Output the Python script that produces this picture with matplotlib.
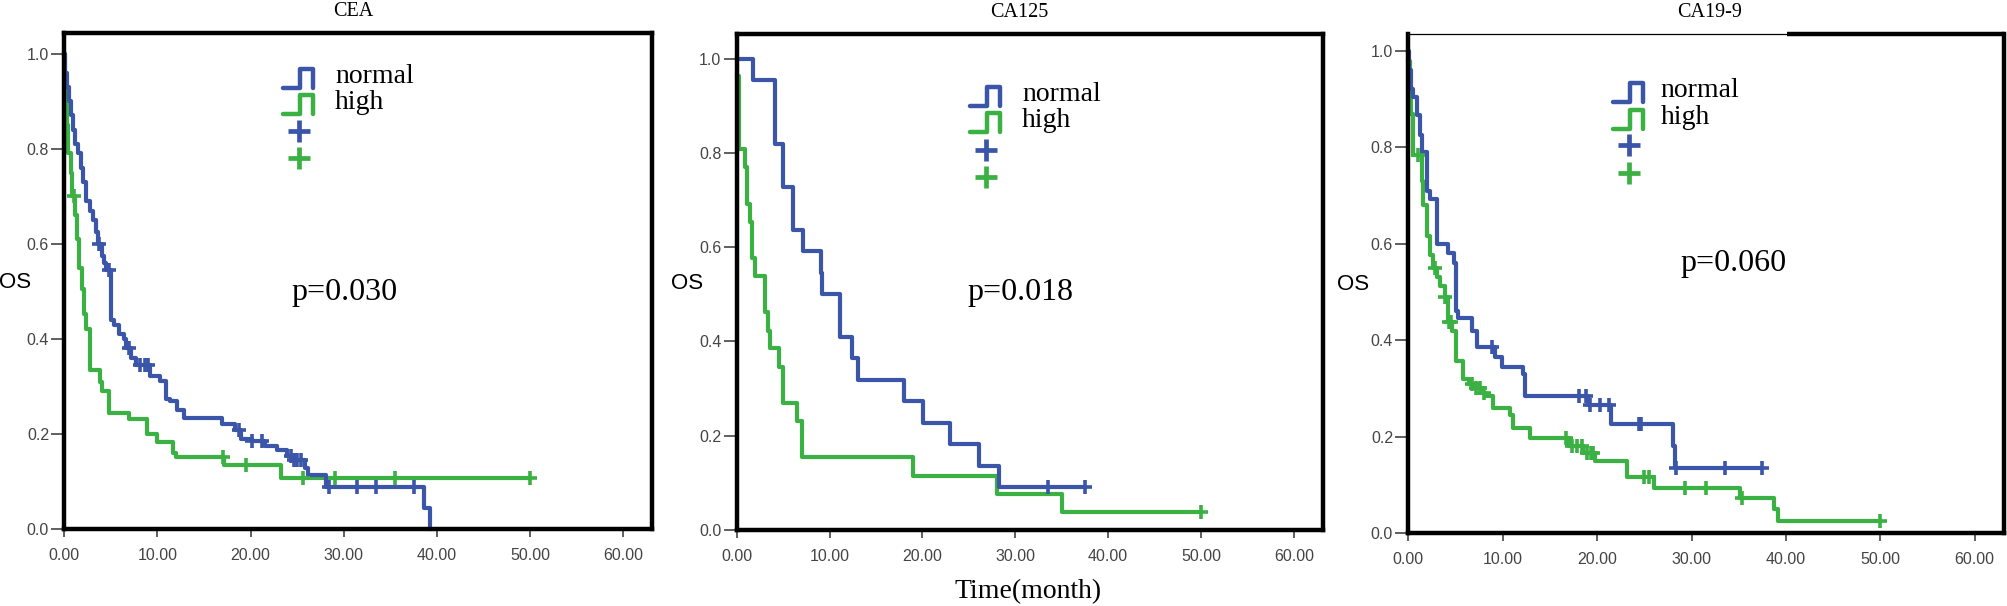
import numpy as np
import matplotlib
matplotlib.use('Agg')
import matplotlib.pyplot as plt

# ---- data (KM step points: time, survival after the step) ----
cea_normal_t = [0, 0.1, 0.3, 0.5, 0.7, 0.9, 1.2, 1.5, 1.8, 2.0, 2.3, 2.8, 3.1, 3.4, 3.6,
                4.0, 4.3, 4.5, 5.0, 5.3, 5.9, 6.4, 6.6, 7.2, 7.7, 9.2, 10.3, 10.9, 11.4,
                12.1, 12.9, 16.9, 18.3, 19.0, 20.1, 21.5, 22.8, 23.9, 24.6, 25.8, 26.2,
                28.1, 38.6, 39.3]
cea_normal_s = [1.0, 0.96, 0.93, 0.90, 0.87, 0.84, 0.81, 0.79, 0.76, 0.73, 0.69, 0.67, 0.65,
                0.625, 0.60, 0.575, 0.56, 0.544, 0.44, 0.43, 0.41, 0.40, 0.38, 0.36, 0.345,
                0.322, 0.311, 0.273, 0.269, 0.251, 0.234, 0.221, 0.208, 0.19, 0.185, 0.174,
                0.167, 0.153, 0.146, 0.128, 0.114, 0.088, 0.044, 0.0]
cea_normal_cens = [3.7, 4.75, 6.9, 8.1, 8.7, 9.0, 18.75, 20.2, 21.2, 24.3, 24.7, 25.0, 25.4,
                   28.4, 31.4, 33.5, 37.5]

cea_high_t = [0, 0.05, 0.15, 0.3, 0.45, 0.7, 0.85, 1.2, 1.4, 1.6, 1.9, 2.1, 2.35, 2.8, 3.8,
              4.1, 4.8, 6.9, 8.9, 9.9, 11.7, 12.0, 17.2, 23.3]
cea_high_s = [1.0, 0.95, 0.90, 0.85, 0.79, 0.75, 0.70, 0.66, 0.61, 0.55, 0.505, 0.452, 0.42,
              0.335, 0.31, 0.29, 0.245, 0.232, 0.199, 0.183, 0.16, 0.152, 0.134, 0.108]
cea_high_cens = [1.0, 17.0, 19.5, 25.6, 29.1, 35.5, 50.0]

ca125_normal_t = [0, 1.8, 4.1, 5.0, 6.1, 7.1, 9.1, 9.2, 11.1, 12.4, 13.1, 18.0, 20.1, 23.0,
                  26.1, 28.2]
ca125_normal_s = [1.0, 0.955, 0.818, 0.727, 0.636, 0.591, 0.545, 0.50, 0.409, 0.364, 0.318,
                  0.273, 0.227, 0.182, 0.136, 0.091]
ca125_normal_cens = [33.5, 37.5]

ca125_high_t = [0, 0.2, 0.9, 1.1, 1.4, 1.6, 2.0, 3.1, 3.4, 3.6, 4.6, 5.0, 6.45, 7.0, 19.0,
                28.0, 35.0]
ca125_high_s = [0.962, 0.808, 0.769, 0.692, 0.654, 0.577, 0.538, 0.462, 0.423, 0.385, 0.346,
                0.269, 0.231, 0.154, 0.115, 0.077, 0.038]
ca125_high_cens = [50.0]

ca199_normal_t = [0, 0.1, 0.3, 0.5, 0.9, 1.2, 1.5, 1.95, 2.3, 3.0, 4.25, 4.8, 5.0, 5.3, 6.8,
                  7.3, 9.2, 9.9, 12.1, 12.4, 19.0, 21.5, 28.0, 28.2]
ca199_normal_s = [1.0, 0.96, 0.92, 0.905, 0.866, 0.826, 0.79, 0.71, 0.693, 0.60, 0.58, 0.56,
                  0.46, 0.445, 0.418, 0.385, 0.365, 0.345, 0.33, 0.285, 0.265, 0.227, 0.18,
                  0.135]
ca199_normal_cens = [8.9, 18.1, 18.8, 19.2, 20.3, 21.3, 24.4, 24.6, 28.4, 33.5, 37.5]

ca199_high_t = [0, 0.15, 0.3, 0.5, 1.4, 1.6, 1.95, 2.3, 2.6, 3.0, 3.4, 3.9, 4.25, 4.6, 5.0,
                5.8, 6.4, 7.0, 7.8, 8.2, 9.0, 10.8, 11.1, 12.9, 17.0, 18.5, 19.8, 23.2, 26.0,
                35.1, 38.7, 39.2]
ca199_high_s = [0.98, 0.93, 0.87, 0.785, 0.73, 0.68, 0.617, 0.577, 0.55, 0.53, 0.513, 0.49,
                0.437, 0.42, 0.357, 0.32, 0.31, 0.30, 0.29, 0.285, 0.26, 0.245, 0.217, 0.197,
                0.181, 0.165, 0.149, 0.117, 0.093, 0.073, 0.049, 0.025]
ca199_high_cens = [1.0, 2.8, 3.9, 4.3, 4.5, 6.7, 7.2, 7.6, 8.0, 16.7, 17.3, 17.9, 18.4, 18.9,
                   19.3, 19.6, 25.0, 25.5, 29.3, 31.5, 35.3, 50.0]

titles = ['CEA', 'CA125', 'CA19-9']
p_values = ['p=0.030', 'p=0.018', 'p=0.060']
group_names = ['normal', 'high']
x_ticks = [0, 10, 20, 30, 40, 50, 60]
y_ticks = [0.0, 0.2, 0.4, 0.6, 0.8, 1.0]

BLUE = '#3b55a9'
GREEN = '#3bb043'
SERIF = 'Liberation Serif'
SANS = 'Liberation Sans'

# ---- layout (pixels in a 2008x606 canvas) ----
W, H = 2008, 606
# left, right, top, bottom px ; ylim top ; title x ; p x,y ; legend icon x, text x, row ys
panels = [
    dict(box=(64.3, 652, 33, 529), ytop=1.0435, title_x=0.491,
         p_xy=(0.387, 0.477), key_x=0.372, txt_x=0.461, rows=[0.909, 0.855, 0.803, 0.748],
         os_x=-0.084),
    dict(box=(736.7, 1322.7, 34, 530), ytop=1.052, title_x=0.482,
         p_xy=(0.393, 0.478), key_x=0.398, txt_x=0.487, rows=[0.873, 0.821, 0.766, 0.712],
         os_x=-0.085),
    dict(box=(1408.3, 2004, 34, 533), ytop=1.035, title_x=0.505,
         p_xy=(0.4566, 0.541), key_x=0.344, txt_x=0.423, rows=[0.882, 0.828, 0.778, 0.721],
         os_x=-0.093),
]

curves = [
    [(cea_normal_t, cea_normal_s, cea_normal_cens), (cea_high_t, cea_high_s, cea_high_cens)],
    [(ca125_normal_t, ca125_normal_s, ca125_normal_cens),
     (ca125_high_t, ca125_high_s, ca125_high_cens)],
    [(ca199_normal_t, ca199_normal_s, ca199_normal_cens),
     (ca199_high_t, ca199_high_s, ca199_high_cens)],
]


def km_curve(ax, t, s, cens, color):
    t = np.asarray(t, float)
    s = np.asarray(s, float)
    end = max(t[-1], max(cens))
    ax.step(np.append(t, end), np.append(s, s[-1]), where='post', color=color, lw=3.0,
            zorder=3, clip_on=False)
    idx = np.searchsorted(t, cens, side='right') - 1
    ax.plot(cens, s[idx], ls='none', marker='+', ms=9.5, mew=2.6, color=color, zorder=4,
            clip_on=False)


def draw_key(ax, cfg, row, color, label=None, pulse=True):
    bb = ax.get_window_extent()
    x0, y0 = cfg['key_x'], cfg['rows'][row]
    if pulse:
        px = np.array([0, 17, 17, 30, 30])
        py = np.array([-9.5, -9.5, 9.5, 9.5, -9.5])
        ax.plot(x0 + px / bb.width, y0 + py / bb.height, transform=ax.transAxes,
                color=color, lw=3.2, clip_on=False, solid_capstyle='round')
    else:
        ax.plot([x0 + 16 / bb.width], [y0], transform=ax.transAxes, marker='+', ms=16,
                mew=3.4, color=color, clip_on=False)
    if label:
        ax.text(cfg['txt_x'], y0 + 2 / bb.height, label, transform=ax.transAxes,
                ha='left', va='center', fontsize=20, family=SERIF)


fig = plt.figure(figsize=(W / 100, H / 100), dpi=100)

for i, cfg in enumerate(panels):
    l, r, t, b = cfg['box']
    ax = fig.add_axes([l / W, (H - b) / H, (r - l) / W, (b - t) / H])
    ax.set_xlim(0, 63.1)
    ax.set_ylim(0, cfg['ytop'])

    (nt, ns, nc), (ht, hs, hc) = curves[i]
    km_curve(ax, ht, hs, hc, GREEN)
    km_curve(ax, nt, ns, nc, BLUE)

    for side in ['left', 'bottom', 'right', 'top']:
        ax.spines[side].set_linewidth(3.2)
        ax.spines[side].set_color('black')
        ax.spines[side].set_zorder(5)
    if i == 2:
        ax.spines['top'].set_linewidth(0.9)
        ax.plot([0.636, 1.0], [1.0, 1.0], transform=ax.transAxes, color='black', lw=3.2,
                clip_on=False, solid_capstyle='butt')

    ax.set_xticks(x_ticks)
    ax.set_xticklabels(['%.2f' % v for v in x_ticks])
    ax.set_yticks(y_ticks)
    ax.set_yticklabels(['%.1f' % v for v in y_ticks])
    ax.tick_params(axis='x', direction='out', length=6, width=1.2, color='#444444',
                   pad=8, labelsize=11.5, labelcolor='#444444')
    ax.tick_params(axis='y', direction='out', length=9.5, width=1.2, color='#444444',
                   pad=1.5, labelsize=11.5, labelcolor='#444444')
    for lab in ax.get_xticklabels() + ax.get_yticklabels():
        lab.set_family(SANS)

    ax.set_ylabel('OS', rotation=0, fontsize=16, family=SANS, ha='center', va='center')
    ax.yaxis.set_label_coords(cfg['os_x'], 0.497)

    ax.text(cfg['title_x'], 1.044, titles[i], transform=ax.transAxes, ha='center',
            va='center', fontsize=14.5, family=SERIF)
    ax.text(cfg['p_xy'][0], cfg['p_xy'][1], p_values[i], transform=ax.transAxes,
            ha='left', va='center', fontsize=23, family=SERIF)

    draw_key(ax, cfg, 0, BLUE, group_names[0])
    draw_key(ax, cfg, 1, GREEN, group_names[1])
    draw_key(ax, cfg, 2, BLUE, pulse=False)
    draw_key(ax, cfg, 3, GREEN, pulse=False)

fig.text(1028 / W, (H - 592) / H, 'Time(month)', ha='center', va='center', fontsize=20,
         family=SERIF)

fig.savefig('out.png', dpi=100, facecolor='white')
